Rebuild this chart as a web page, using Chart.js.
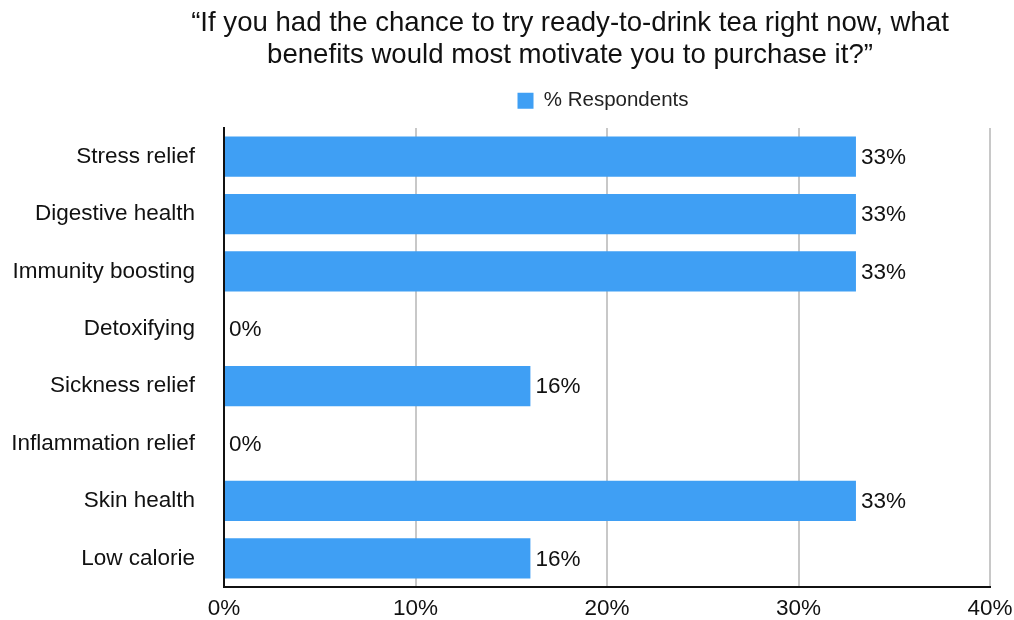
<!DOCTYPE html>
<html>
<head>
<meta charset="utf-8">
<script src="https://cdn.jsdelivr.net/npm/chart.js@4"></script>
<style>
html,body{margin:0;padding:0;background:#fff;}
#wrap{width:1014px;height:620px;}
</style>
</head>
<body>
<div id="wrap"><canvas id="c" width="1014" height="620"></canvas></div>
<script>
const categories = ["Stress relief","Digestive health","Immunity boosting","Detoxifying","Sickness relief","Inflammation relief","Skin health","Low calorie"];
const respondents = [33, 33, 33, 0, 16, 0, 33, 16];
const xTicks = [0, 10, 20, 30, 40];
const seriesName = "% Respondents";
const titleLines = ["\u201CIf you had the chance to try ready-to-drink tea right now, what", "benefits would most motivate you to purchase it?\u201D"];

const FONT = "'Liberation Sans', Arial, Helvetica, sans-serif";

const shiftPlugin = {
  id: 'shift',
  afterLayout(chart) {
    const t = chart.titleBlock;
    if (t) { t.left += 63; t.right += 63; t.top -= 7; t.bottom -= 7; }
    const l = chart.legend;
    if (l) { l.left += 96; l.right += 96; l.top -= 7; l.bottom -= 7; l.adjustHitBoxes(); }
  }
};

const valueLabels = {
  id: 'valueLabels',
  afterDatasetsDraw(chart) {
    const ctx = chart.ctx;
    const meta = chart.getDatasetMeta(0);
    ctx.save();
    ctx.font = "22.5px " + FONT;
    ctx.fillStyle = "#111";
    ctx.textAlign = "left";
    ctx.textBaseline = "middle";
    meta.data.forEach((bar, i) => {
      ctx.fillText(respondents[i] + "%", bar.x + 5, bar.y + 1);
    });
    ctx.restore();
  }
};

new Chart(document.getElementById('c'), {
  type: 'bar',
  data: {
    labels: categories,
    datasets: [{
      label: seriesName,
      data: respondents,
      backgroundColor: '#3f9ff4',
      borderWidth: 0,
      barPercentage: 0.7,
      categoryPercentage: 1.0
    }]
  },
  options: {
    indexAxis: 'y',
    responsive: false,
    animation: false,
    devicePixelRatio: 1,
    layout: { padding: 0 },
    plugins: {
      title: {
        display: true,
        text: titleLines,
        color: '#111',
        font: { family: FONT, size: 27.6, weight: 'normal', lineHeight: 1.15 },
        padding: { top: 8, bottom: 0 }
      },
      legend: {
        display: true,
        position: 'top',
        labels: {
          color: '#222',
          font: { family: FONT, size: 20.5 },
          boxWidth: 16,
          boxHeight: 16,
          padding: 19
        }
      },
      tooltip: { enabled: false }
    },
    scales: {
      x: {
        min: 0, max: 40,
        afterBuildTicks(axis) { axis.ticks = xTicks.map(v => ({ value: v })); },
        afterFit(axis) { axis.height = 33; axis.paddingLeft = 0; axis.paddingRight = 24; },
        ticks: {
          callback: v => v + '%',
          color: '#111',
          font: { family: FONT, size: 22.5 },
          padding: 8
        },
        grid: { color: '#c8c8c8', lineWidth: 2, drawTicks: false },
        border: { display: true, color: '#111', width: 2 }
      },
      y: {
        afterFit(axis) { axis.width = 224; axis.paddingTop = 128; axis.paddingBottom = 0; },
        ticks: {
          color: '#111',
          font: { family: FONT, size: 22.5 },
          padding: 29
        },
        grid: { display: false, drawTicks: false },
        border: { display: true, color: '#111', width: 2 }
      }
    }
  },
  plugins: [shiftPlugin, valueLabels]
});
</script>
</body>
</html>
